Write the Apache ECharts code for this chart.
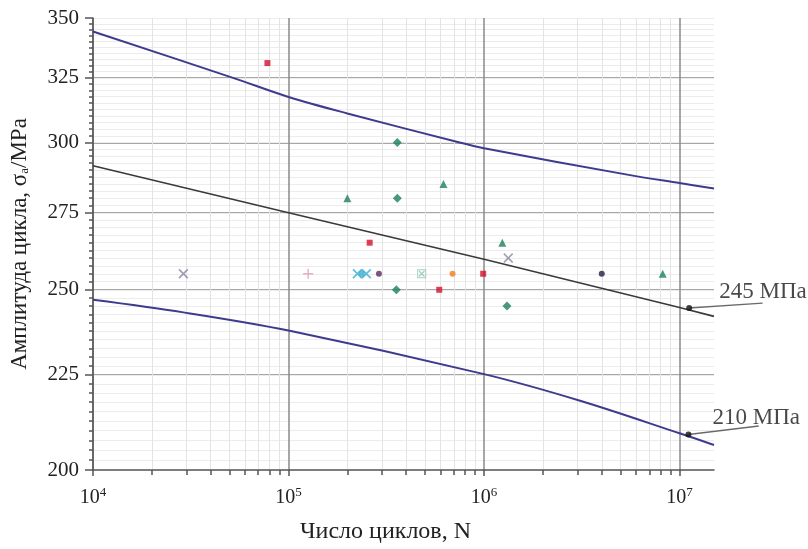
<!DOCTYPE html>
<html><head><meta charset="utf-8">
<script src="https://cdn.jsdelivr.net/npm/echarts@6/dist/echarts.min.js"></script>
<style>html,body{margin:0;padding:0;background:#fff}#c{width:808px;height:549px}</style>
</head><body><div id="c"></div>
<script>
// ---- tick labels / axis values ----
const yMajor = [200, 225, 250, 275, 300, 325, 350];
const yGrid = [225, 250, 275, 300, 325];
const xMajor = [1e4, 1e5, 1e6, 1e7];
const xMinor = [2e4,3e4,4e4,5e4,6e4,7e4,8e4,9e4,2e5,3e5,4e5,5e5,6e5,7e5,8e5,9e5,2e6,3e6,4e6,5e6,6e6,7e6,8e6,9e6];
const yMinor = [];
for (let v = 200; v <= 350; v += 2.5) yMinor.push(v);

// ---- curves ----
const upperN = [1e4, 5.2e4, 1e5, 2e5, 7.5e5, 1e6, 5.4e6, 1e7, 1.5e7];
const upperS = [344.2, 325, 317.4, 311, 300, 297.9, 288.3, 285.3, 283.4];
const middleN = [1e4, 1e5, 1e6, 1e7, 1.5e7];
const middleS = [291.5, 275, 259.6, 244.6, 241.9];
const lowerN = [1e4, 2.9e4, 1e5, 1e6, 3.1e6, 1e7, 1.5e7];
const lowerS = [246.9, 243.1, 237.7, 225.2, 217.9, 209.3, 206.3];

// ---- experimental points ----
const redN = [7.8e4, 2.6e5, 5.9e5, 9.9e5];
const redS = [331, 265, 250, 255];
const greenTriN = [2.0e5, 6.2e5, 1.24e6, 8.2e6];
const greenTriS = [280, 285, 265, 255];
const greenDiaN = [3.6e5, 3.6e5, 3.56e5, 1.31e6];
const greenDiaS = [300, 280, 250, 245];
const cyanXN = [2.25e5, 2.5e5];
const cyanXS = [255, 255];
const cyanDotN = [2.37e5];
const cyanDotS = [255];
const pinkPlusN = [1.26e5];
const pinkPlusS = [255];
const purpleN = [2.9e5];
const purpleS = [255];
const boxXN = [4.8e5];
const boxXS = [255];
const orangeN = [6.9e5];
const orangeS = [255];
const navyN = [4.0e6];
const navyS = [255];
const grayXN = [2.9e4, 1.33e6];
const grayXS = [255, 260];

// ---- annotations ----
const annN = [1.12e7, 1.11e7];
const annS = [244.4, 209.0];
const annText = ['245 МПа', '210 МПа'];
const annEndN = [2.66e7, 2.54e7];
const annEndS = [245.9, 211.2];

const zip = (a, b) => a.map((v, i) => [v, b[i]]);
const FONT = 'Liberation Serif';
const X_PATH = 'path://M0,1.2L1.2,0L5,3.8L8.8,0L10,1.2L6.2,5L10,8.8L8.8,10L5,6.2L1.2,10L0,8.8L3.8,5Z';
const PLUS_PATH = 'path://M4.3,0H5.7V4.3H10V5.7H5.7V10H4.3V5.7H0V4.3H4.3Z';
const BOXX_PATH = 'path://M0,0H10V10H0ZM1,1V9H9V1ZM1.5,2.5L2.5,1.5L5,4L7.5,1.5L8.5,2.5L6,5L8.5,7.5L7.5,8.5L5,6L2.5,8.5L1.5,7.5L4,5Z';

function scatter(name, n, s, symbol, size, color) {
  return { name, type: 'scatter', xAxisIndex: 0, yAxisIndex: 0, data: zip(n, s),
    symbol, symbolSize: size, itemStyle: { color }, z: 5 };
}
function curve(name, n, s, color, width, smooth) {
  return { name, type: 'line', xAxisIndex: 0, yAxisIndex: 0, data: zip(n, s), smooth,
    showSymbol: false, lineStyle: { color, width }, z: 4 };
}

const chart = echarts.init(document.getElementById('c'));
const baseX = { type: 'log', logBase: 10, min: 1e4, max: 1.5e7, gridIndex: 0, position: 'bottom' };
const baseY = { type: 'log', logBase: 10, min: 200, max: 350, gridIndex: 0, position: 'left' };

chart.setOption({
  animation: false,
  grid: { left: 93, right: 94, top: 18, bottom: 75 },
  xAxis: [
    Object.assign({}, baseX, {
      name: 'Число циклов, N', nameLocation: 'middle', nameGap: 50,
      nameTextStyle: { fontFamily: FONT, fontSize: 24, color: '#222', padding: [0, 36, 0, 0] },
      axisLine: { show: true, lineStyle: { color: '#555', width: 1.5 } },
      axisTick: { show: true, length: 6, customValues: xMajor, lineStyle: { color: '#555', width: 1.5 } },
      axisLabel: { customValues: xMajor, margin: 16, fontFamily: FONT, fontSize: 20, color: '#222',
        formatter: v => '10{s|' + Math.round(Math.log10(v)) + '}',
        rich: { s: { fontFamily: FONT, fontSize: 13, padding: [0, 0, 11, 0], color: '#222' } } },
      splitLine: { show: true, lineStyle: { color: '#8a8a8a', width: 1.5 } }
    }),
    Object.assign({}, baseX, {
      axisLine: { show: false },
      axisTick: { show: true, length: 5, customValues: xMinor, lineStyle: { color: '#555', width: 1.5 } },
      axisLabel: { show: false, customValues: xMinor },
      splitLine: { show: true, lineStyle: { color: '#e4e4e4', width: 1 } }
    })
  ],
  yAxis: [
    Object.assign({}, baseY, {
      name: 'Амплитуда цикла, σ{sub|a}/MPa', nameLocation: 'middle', nameGap: 62,
      nameTextStyle: { fontFamily: FONT, fontSize: 23, color: '#222',
        rich: { sub: { fontFamily: FONT, fontSize: 13, padding: [10, 0, 0, 0], color: '#222' } } },
      axisLine: { show: true, lineStyle: { color: '#555', width: 1.5 } },
      axisTick: { show: true, length: 8, customValues: yMajor, lineStyle: { color: '#555', width: 1.5 } },
      axisLabel: { customValues: yMajor, margin: 14, fontFamily: FONT, fontSize: 21, color: '#222',
        formatter: v => String(Math.round(v)) },
      splitLine: { show: false }
    }),
    Object.assign({}, baseY, {
      axisLine: { show: false },
      axisTick: { show: false, customValues: yGrid },
      axisLabel: { show: false, customValues: yGrid },
      splitLine: { show: true, lineStyle: { color: '#8a8a8a', width: 1.5 } }
    }),
    Object.assign({}, baseY, {
      axisLine: { show: false },
      axisTick: { show: true, length: 4, customValues: yMinor, lineStyle: { color: '#555', width: 1.5 } },
      axisLabel: { show: false, customValues: yMinor },
      splitLine: { show: true, lineStyle: { color: '#ececec', width: 1 } }
    })
  ],
  series: [
    curve('upper', upperN, upperS, '#3d3b8e', 2, 0.35),
    curve('middle', middleN, middleS, '#3a3a3a', 1.6, false),
    curve('lower', lowerN, lowerS, '#3d3b8e', 2, 0.35),
    scatter('red', redN, redS, 'rect', 6, '#d2102c'),
    scatter('greenTri', greenTriN, greenTriS, 'triangle', 8, '#1b7f5a'),
    scatter('greenDia', greenDiaN, greenDiaS, 'diamond', 9, '#1b7f5a'),
    scatter('cyanX', cyanXN, cyanXS, X_PATH, 10, '#3aaed0'),
    scatter('cyanDot', cyanDotN, cyanDotS, 'circle', 6, '#3aaed0'),
    scatter('pink', pinkPlusN, pinkPlusS, PLUS_PATH, 10, '#e49aa8'),
    scatter('purple', purpleN, purpleS, 'circle', 6, '#5b2b66'),
    scatter('boxX', boxXN, boxXS, BOXX_PATH, 9, '#8cc4ad'),
    scatter('orange', orangeN, orangeS, 'circle', 6, '#f07d1c'),
    scatter('navy', navyN, navyS, 'circle', 6, '#1e1e48'),
    scatter('grayX', grayXN, grayXS, X_PATH, 10, '#8a86a4'),
    {
      name: 'leaders', type: 'custom', xAxisIndex: 0, yAxisIndex: 0, clip: false, silent: true, z: 6,
      data: annN.map((n, i) => [n, annS[i], annEndN[i], annEndS[i]]),
      renderItem: (params, api) => {
        const p0 = api.coord([api.value(0), api.value(1)]);
        const p1 = api.coord([api.value(2), api.value(3)]);
        return { type: 'line', shape: { x1: p0[0], y1: p0[1], x2: p1[0], y2: p1[1] },
          style: { stroke: '#6a6a6a', lineWidth: 1.5 } };
      }
    },
    {
      name: 'annotations', type: 'scatter', xAxisIndex: 0, yAxisIndex: 0,
      data: zip(annN, annS).map((v, i) => ({ value: v, label: { offset: i === 0 ? [22, -16] : [16, -16] } })),
      symbol: 'circle', symbolSize: 6, itemStyle: { color: '#111' }, z: 7,
      label: { show: true, position: 'right', fontFamily: FONT, fontSize: 23, color: '#1a1a1a',
        formatter: p => annText[p.dataIndex] }
    }
  ]
});
</script></body></html>
